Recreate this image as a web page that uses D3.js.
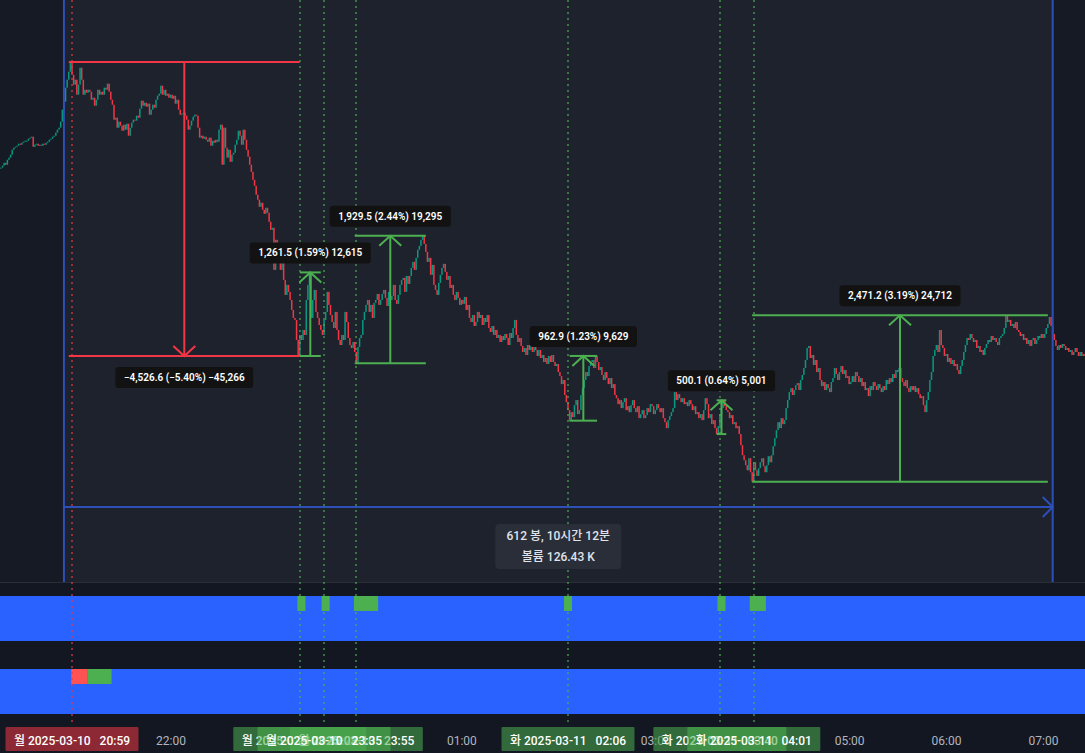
<!DOCTYPE html>
<html><head><meta charset="utf-8">
<script src="https://cdn.jsdelivr.net/npm/d3@7"></script>
<style>
html,body{margin:0;padding:0;background:#131722;overflow:hidden}
svg{display:block}
text{font-family:Roboto,"Noto Sans CJK KR",sans-serif}
</style></head><body>
<svg id="chart" width="1085" height="753"></svg>
<script>
// ---------- DATA ----------
const firstBar = "2025-03-10 20:15";   // 1-minute bars
const lastBar  = "2025-03-11 07:26";
const closes = [
82171,82201,82246,82216,82293,82326,82372,82449,82480,82496,82512,82543,82527,82558,82574,82590,82590,82621,82637,82652,82496,82527,82543,82512,82527,82512,82543,82527,82558,82574,82605,
82621,82652,82668,82715,82762,82793,82887,83075,83200,83420,83546,83673,83826,83625,83468,83546,83310,83468,83736,83546,83310,83388,83341,83388,83357,83231,83262,83137,83231,83388,83310,
83357,83310,83420,83388,83484,83357,83231,83153,82918,82949,82793,82887,82824,82746,82840,82762,82856,82668,82793,82872,82918,82903,82981,82949,83091,83216,83137,83184,83122,83169,82996,
83075,83153,83106,83231,83294,83326,83452,83310,83388,83294,83326,83262,83310,83247,83294,83169,83231,83075,82996,83012,83028,82981,82918,82762,82824,82903,82965,82996,82981,82793,82637,
82668,82621,82652,82605,82574,82637,82512,82590,82558,82605,82574,82762,82840,82216,82793,82480,82326,82449,82262,82372,82403,82527,82605,82746,82668,82527,82762,82605,82449,82341,82216,
82106,81983,81890,81752,81674,81566,81628,81520,81458,81551,81474,81335,81212,81243,80600,81059,80906,80722,80600,80783,80448,80220,80372,80266,80144,79993,79872,79842,79540,79300,79616,
79540,79691,79616,80144,80372,80561,79872,80144,80296,79963,79872,79766,79691,79616,79842,79963,80266,80069,79917,79811,79721,79963,79691,79540,79465,79616,79540,79963,79811,79570,79465,
79420,79510,79360,79190,79435,79570,79616,79842,79963,80069,80144,79963,80069,79872,80099,80144,80235,80069,80144,80235,80296,80175,80053,80266,80144,80205,80372,80144,80084,80220,80372,
80448,80478,80266,80508,80387,80508,80631,80722,80600,80783,80906,80966,81059,81120,80997,80875,80722,80783,80524,80676,80372,80296,80220,80402,80524,80631,80692,80570,80448,80508,80326,
80372,80220,80144,80266,80175,80069,80144,80084,80190,79993,80069,79872,79811,79917,79751,79811,79963,79872,79917,79766,79872,79811,79917,79721,79661,79751,79616,79691,79570,79616,79510,
79600,79540,79630,79570,79465,79645,79570,79721,79842,79616,79510,79570,79450,79360,79420,79315,79465,79390,79480,79360,79450,79390,79300,79390,79270,79315,79210,79270,79180,79300,79210,
79315,79210,79150,79180,79060,79000,78881,78941,78717,78613,78494,78338,78464,78390,78568,78643,78435,78494,78717,78821,78941,79060,79000,79150,79210,79240,79120,79301,79210,79090,79135,
79016,78941,79060,78971,78881,78971,78821,78881,78717,78672,78583,78643,78524,78613,78672,78494,78553,78464,78568,78643,78524,78464,78553,78375,78435,78494,78375,78420,78524,78464,78583,
78553,78435,78494,78583,78524,78464,78524,78375,78316,78227,78346,78405,78464,78524,78762,78643,78732,78672,78613,78672,78583,78613,78553,78643,78583,78494,78553,78435,78464,78375,78435,
78346,78494,78672,78583,78375,78435,78287,78346,78227,78140,78257,78435,78524,78640,78553,78494,78464,78375,78420,78287,78316,78227,78257,78140,77976,77829,77755,77682,77608,77785,77579,
77440,77725,77608,77525,77638,77725,77785,77667,77579,77682,77814,77725,77829,77961,78079,78198,78316,78227,78375,78287,78346,78524,78643,78762,78821,78717,78792,78866,78896,78792,78941,
79016,79120,79240,79420,79450,79270,79315,79165,79240,79060,79120,78941,78851,78911,78792,78881,78821,78762,78911,78971,79120,79030,78941,79060,79150,79030,79090,78971,79000,78881,78911,
79000,78911,79060,79000,78911,78971,78851,78911,78792,78821,78702,78851,78792,78911,78851,78792,78881,78821,78762,78851,78792,78941,78881,78971,78911,79030,78971,79090,79060,79120,78971,
78911,78851,78941,78821,78762,78851,78792,78851,78762,78821,78732,78672,78702,78568,78464,78643,78762,78941,79060,79300,79390,79465,79360,79691,79465,79420,79300,79330,79210,79270,79180,
79240,79150,79180,79090,79030,79150,79240,79360,79465,79570,79540,79630,79570,79510,79540,79420,79450,79360,79390,79315,79420,79480,79540,79510,79600,79540,79570,79510,79465,79570,79600,
79630,79721,79911,79811,79842,79751,79781,79721,79811,79691,79661,79600,79630,79540,79570,79480,79540,79450,79540,79570,79480,79540,79600,79570,79630,79570,79630,79721,79781,79887,79751,
79630,79540,79450,79390,79465,79420,79480,79450,79390,79420,79360,79390,79315,79360,79420,79360,79300,79360,79300,79330,79300
];
const priceDomain = [75988, 84813];

// price-range measurements
const measureStart = ["2025-03-10 20:57","2025-03-10 23:20","2025-03-10 23:54","2025-03-11 02:07","2025-03-11 03:38","2025-03-11 04:00"];
const measureEnd   = ["2025-03-10 23:20","2025-03-10 23:33","2025-03-11 00:38","2025-03-11 02:24","2025-03-11 03:44","2025-03-11 07:03"];
const measureFrom  = [83826.0, 79300.0, 79190.0, 78338.0, 78140.0, 77440.0];
const measureTo    = [79299.4, 80561.5, 81119.5, 79300.9, 78640.1, 79911.2];

// date range
const rangeStart = "2025-03-10 20:54";
const rangeEnd   = "2025-03-11 07:06";
const rangeVolumeK = 126.43;

// vertical markers
const markerTimes  = ["2025-03-10 20:59","2025-03-10 23:20","2025-03-10 23:35","2025-03-10 23:55","2025-03-11 02:06","2025-03-11 03:40","2025-03-11 04:01"];
const markerKinds  = ["down","up","up","up","up","up","up"];
const markerLabelOrder = [0,1,3,2,4,5,6];
const weekdayKo = ["일","월","화","수","목","금","토"];

// indicator pane signals
const paneAStart = ["2025-03-10 23:19","2025-03-10 23:34","2025-03-10 23:54","2025-03-11 02:04","2025-03-11 03:39","2025-03-11 03:59"];
const paneAEnd   = ["2025-03-10 23:23","2025-03-10 23:38","2025-03-11 00:08","2025-03-11 02:08","2025-03-11 03:43","2025-03-11 04:08"];
const paneBStart = ["2025-03-10 20:59","2025-03-10 21:09"];
const paneBEnd   = ["2025-03-10 21:08","2025-03-10 21:23"];
const paneBKinds = ["down","up"];

// ---------- STYLE ----------
const W = 1085, H = 753;
const mainBottom = 582;
const labelHalf = 66.5;
const C = {
  bg:"#131722", outside:"#161a25", inside:"#1e222d", up:"#089981", down:"#f23645",
  mUp:"#4caf50", mDown:"#f23645", range:"#2d4fb8", blue:"#2962ff",
  sqUp:"#4caf50", sqDown:"#ff5252", axisText:"#b2b5be"
};

const parse = d3.timeParse("%Y-%m-%d %H:%M");
const t0 = parse(firstBar), t1 = parse(lastBar);
const x = d3.scaleTime().domain([t0, t1]).range([0.91, 1085.0]);
const y = d3.scaleLog().domain(priceDomain).range([mainBottom, 0]);

const svg = d3.select("#chart");
svg.append("rect").attr("width",W).attr("height",H).attr("fill",C.bg);

// main pane background
svg.append("rect").attr("x",0).attr("y",0).attr("width",W).attr("height",mainBottom).attr("fill",C.outside);
const rs = parse(rangeStart), re = parse(rangeEnd);
svg.append("rect").attr("x",x(rs)).attr("y",0).attr("width",x(re)-x(rs)).attr("height",mainBottom).attr("fill",C.inside);
svg.append("line").attr("x1",0).attr("x2",W).attr("y1",mainBottom+0.5).attr("y2",mainBottom+0.5).attr("stroke","#2a2e39").attr("stroke-width",1);

// indicator panes
svg.append("rect").attr("x",0).attr("y",596).attr("width",W).attr("height",45).attr("fill",C.blue);
svg.append("rect").attr("x",0).attr("y",669).attr("width",W).attr("height",45).attr("fill",C.blue);
paneAStart.forEach((s,i)=>{
  const a = x(parse(s))-0.8, b = x(parse(paneAEnd[i]))+0.8;
  svg.append("rect").attr("x",a).attr("y",596).attr("width",b-a).attr("height",15).attr("fill",C.sqUp);
});
paneBStart.forEach((s,i)=>{
  const a = x(parse(s))-0.8, b = x(parse(paneBEnd[i]))+0.8;
  svg.append("rect").attr("x",a).attr("y",669).attr("width",b-a).attr("height",15)
    .attr("fill", paneBKinds[i]==="up"?C.sqUp:C.sqDown);
});

// candles
const candles = closes.map((c,i)=>({t:d3.timeMinute.offset(t0,i), o: i>0?closes[i-1]:c, c}));
const gC = svg.append("g");
gC.selectAll("rect").data(candles).join("rect")
  .attr("x", d=>x(d.t)-0.75)
  .attr("width", 1.5)
  .attr("y", d=>y(Math.max(d.o,d.c)))
  .attr("height", d=>Math.max(1, Math.abs(y(d.o)-y(d.c))))
  .attr("fill", d=> d.c>=d.o ? C.up : C.down);

// date range tool lines
const gR = svg.append("g").attr("stroke",C.range).attr("stroke-width",2).attr("fill","none");
gR.append("line").attr("x1",x(rs)).attr("x2",x(rs)).attr("y1",0).attr("y2",mainBottom);
gR.append("line").attr("x1",x(re)).attr("x2",x(re)).attr("y1",0).attr("y2",mainBottom);
gR.append("line").attr("x1",x(rs)).attr("x2",x(re)).attr("y1",507).attr("y2",507);
gR.append("path").attr("d",`M${x(re)-10},497L${x(re)},507L${x(re)-10},517`);

// vertical dotted markers
markerTimes.forEach((s,i)=>{
  const xm = Math.round(x(parse(s)));
  svg.append("line").attr("x1",xm).attr("x2",xm).attr("y1",0).attr("y2",722)
    .attr("stroke", markerKinds[i]==="up"?C.mUp:C.mDown).attr("stroke-opacity",0.6)
    .attr("stroke-width",2).attr("stroke-dasharray","2,4");
});

// date range info box
const bars = d3.timeMinute.count(rs, re);
const hrs = Math.floor(bars/60), mins = bars%60;
const cx = (x(rs)+x(re))/2;
svg.append("rect").attr("x",cx-63).attr("y",524).attr("width",126).attr("height",45).attr("rx",4).attr("fill","#2a2e39");
svg.append("text").attr("x",cx).attr("y",539.5).attr("text-anchor","middle").attr("fill","#e0e3eb").attr("font-size",12).attr("font-weight",500)
  .text(`${bars} 봉, ${hrs}시간 ${mins}분`);
svg.append("text").attr("x",cx).attr("y",560.5).attr("text-anchor","middle").attr("fill","#e0e3eb").attr("font-size",12).attr("font-weight",500)
  .text(`볼륨 ${rangeVolumeK} K`);

// price range measurements
const fmtNum = d3.format(",.1f"), fmtInt = d3.format(",");
measureStart.forEach((s,i)=>{
  const x1 = x(parse(s)), x2 = x(parse(measureEnd[i])), xm = (x1+x2)/2;
  const yF = y(measureFrom[i]), yT = y(measureTo[i]);
  const up = measureTo[i] > measureFrom[i];
  const col = up ? C.mUp : C.mDown;
  const g = svg.append("g").attr("stroke",col).attr("stroke-width",2).attr("fill","none");
  g.append("line").attr("x1",x1).attr("x2",x2).attr("y1",yF).attr("y2",yF);
  g.append("line").attr("x1",x1).attr("x2",x2).attr("y1",yT).attr("y2",yT);
  g.append("line").attr("x1",xm).attr("x2",xm).attr("y1",yF).attr("y2",yT);
  const dy = up ? 10 : -10;
  g.append("path").attr("d",`M${xm-11},${yT+dy}L${xm},${yT}L${xm+11},${yT+dy}`);
  const diff = measureTo[i]-measureFrom[i];
  const pct = diff/measureFrom[i]*100;
  const label = `${fmtNum(diff)} (${d3.format(".2f")(pct)}%) ${fmtInt(Math.round(diff*10))}`;
  const lg = svg.append("g");
  const tx = lg.append("text").attr("x",xm).attr("text-anchor","middle").attr("fill","#ffffff")
    .attr("font-size",10).attr("font-weight",600).text(label);
  const tw = tx.node().getComputedTextLength();
  const by = up ? yT - 9 - 21 : yT + 11;
  lg.insert("rect","text").attr("x",xm-tw/2-8.5).attr("y",by).attr("width",tw+17).attr("height",21).attr("rx",3).attr("fill","#121212");
  tx.attr("y", by+14);
});

// time axis (hour ticks hidden where a marker label covers them)
const markerX = markerTimes.map(s=>x(parse(s)));
const hourTicks = x.ticks(d3.timeHour.every(1))
  .filter(d => !markerX.some(m => Math.abs(x(d)-m) < labelHalf-2));
const axis = d3.axisBottom(x).tickValues(hourTicks).tickSize(0).tickPadding(9)
  .tickFormat(d => d.getHours()===0 ? d3.timeFormat("%-d")(d) : d3.timeFormat("%H:%M")(d));
const ga = svg.append("g").attr("transform","translate(0,727)").call(axis);
ga.select(".domain").remove();
ga.selectAll("text").attr("fill",C.axisText).attr("font-size",12).attr("font-family",'Roboto,"Noto Sans CJK KR",sans-serif');

// marker time labels
const fmtD = d3.timeFormat("%Y-%m-%d"), fmtT = d3.timeFormat("%H:%M");
markerLabelOrder.forEach(i=>{
  const d = parse(markerTimes[i]);
  const xm = x(d);
  const col = markerKinds[i]==="up" ? C.mUp : C.mDown;
  svg.append("rect").attr("x",xm-labelHalf).attr("y",727).attr("width",labelHalf*2).attr("height",24).attr("rx",1)
    .attr("fill",col).attr("fill-opacity",0.55);
  svg.append("text").attr("x",xm).attr("y",744.5).attr("text-anchor","middle").attr("fill","#ffffff")
    .attr("font-size",12).attr("font-weight",500).style("white-space","pre")
    .text(`${weekdayKo[d.getDay()]} ${fmtD(d)}   ${fmtT(d)}`);
});
</script>
</body></html>
